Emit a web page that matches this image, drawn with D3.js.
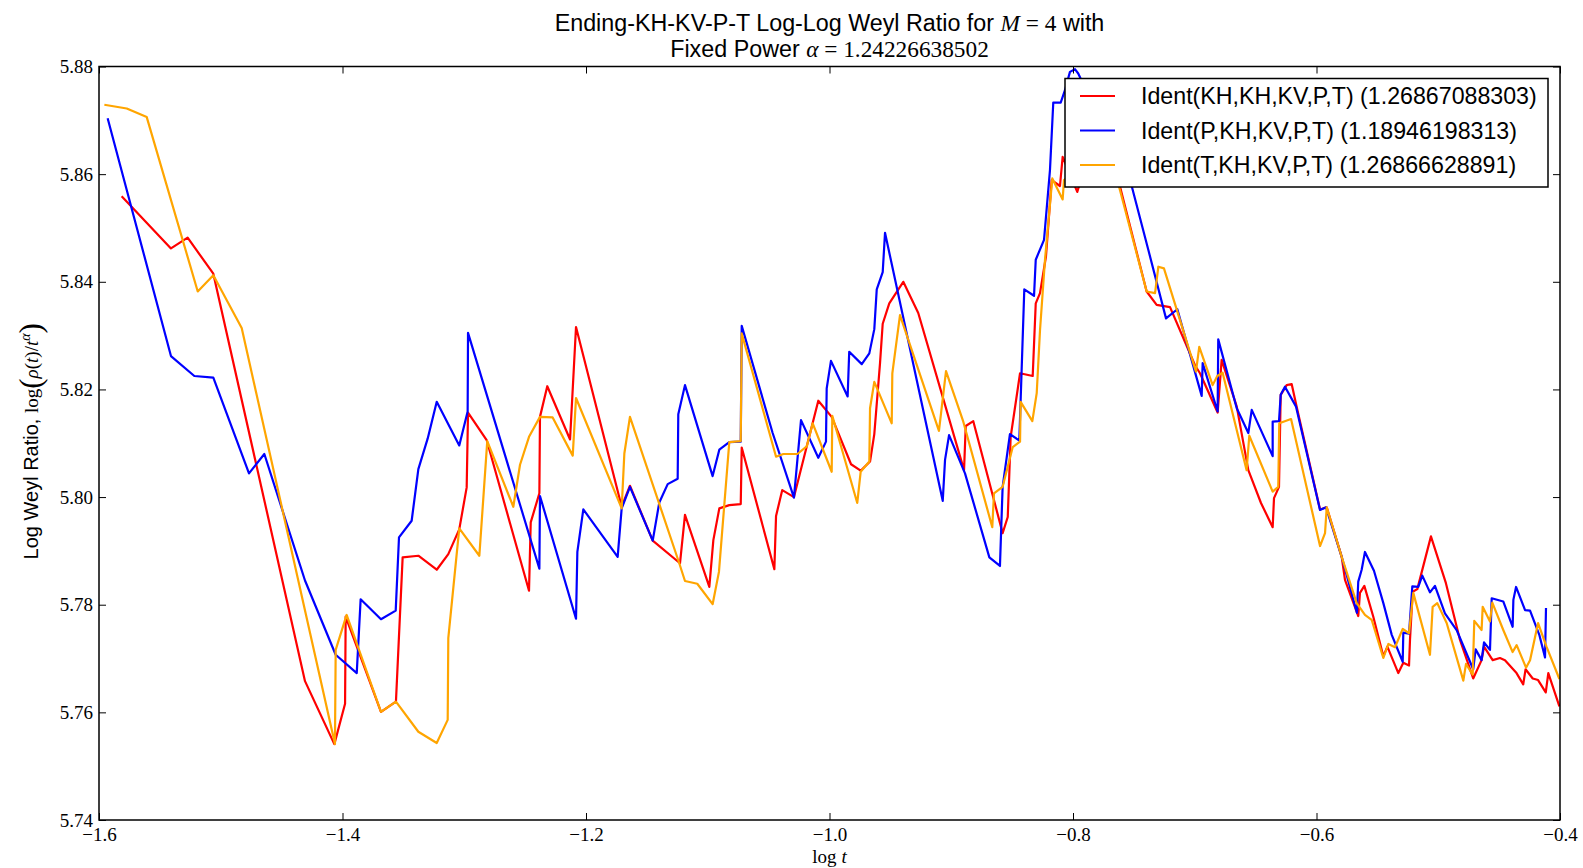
<!DOCTYPE html>
<html><head><meta charset="utf-8">
<script src="https://cdn.jsdelivr.net/npm/d3@7"></script>
<style>body{margin:0;background:#fff}</style>
</head><body><svg id="c" width="1583" height="868"></svg>
<script>
const xTicks = [-1.6,-1.4,-1.2,-1.0,-0.8,-0.6,-0.4];
const yTicks = [5.74,5.76,5.78,5.80,5.82,5.84,5.86,5.88];
const seriesNames = ["Ident(KH,KH,KV,P,T) (1.26867088303)","Ident(P,KH,KV,P,T) (1.18946198313)","Ident(T,KH,KV,P,T) (1.26866628891)"];
const seriesColors = ["#ff0000","#0000ff","#ffa500"];

const redPts = [[-1.5814,5.8559],[-1.5409,5.8462],[-1.5272,5.8482],[-1.5061,5.8415],[-1.4308,5.7658],[-1.4067,5.7541],[-1.3979,5.7616],[-1.3974,5.7778],[-1.3684,5.7601],[-1.3561,5.7620],[-1.3506,5.7888],[-1.3377,5.7891],[-1.3226,5.7865],[-1.3131,5.7894],[-1.3041,5.7940],[-1.2980,5.8018],[-1.2969,5.8157],[-1.2816,5.8106],[-1.2468,5.7826],[-1.2454,5.7953],[-1.2383,5.8007],[-1.2378,5.8149],[-1.2318,5.8206],[-1.2131,5.8107],[-1.2082,5.8316],[-1.1707,5.7982],[-1.1639,5.8021],[-1.1452,5.7919],[-1.1228,5.7877],[-1.1187,5.7967],[-1.0987,5.7833],[-1.0954,5.7920],[-1.0905,5.7979],[-1.0823,5.7985],[-1.0729,5.7987],[-1.0721,5.8092],[-1.0453,5.7866],[-1.0439,5.7965],[-1.0388,5.8013],[-1.0292,5.8000],[-1.0092,5.8179],[-0.9982,5.8149],[-0.9823,5.8061],[-0.9744,5.8049],[-0.9667,5.8066],[-0.9632,5.8117],[-0.9585,5.8249],[-0.9563,5.8322],[-0.9509,5.8360],[-0.9394,5.8400],[-0.9271,5.8342],[-0.8895,5.8050],[-0.8881,5.8132],[-0.8819,5.8141],[-0.8578,5.7933],[-0.8536,5.7963],[-0.8512,5.8112],[-0.8435,5.8230],[-0.8331,5.8225],[-0.8306,5.8360],[-0.8271,5.8379],[-0.8222,5.8447],[-0.8175,5.8589],[-0.8107,5.8578],[-0.8085,5.8632],[-0.7965,5.8567],[-0.7860,5.8645],[-0.7737,5.8617],[-0.7614,5.8577],[-0.7395,5.8382],[-0.7313,5.8357],[-0.7203,5.8353],[-0.6998,5.8245],[-0.6957,5.8230],[-0.6812,5.8157],[-0.6779,5.8255],[-0.6655,5.8168],[-0.6560,5.8050],[-0.6456,5.7989],[-0.6360,5.7944],[-0.6349,5.7998],[-0.6308,5.8019],[-0.6294,5.8190],[-0.6245,5.8208],[-0.6204,5.8210],[-0.6163,5.8168],[-0.5971,5.7977],[-0.5916,5.7981],[-0.5793,5.7889],[-0.5766,5.7846],[-0.5657,5.7779],[-0.5643,5.7822],[-0.5607,5.7835],[-0.5534,5.7778],[-0.5451,5.7704],[-0.5418,5.7722],[-0.5328,5.7673],[-0.5287,5.7692],[-0.5240,5.7687],[-0.5232,5.7735],[-0.5210,5.7824],[-0.5172,5.7829],[-0.5060,5.7927],[-0.4937,5.7840],[-0.4822,5.7735],[-0.4713,5.7663],[-0.4644,5.7697],[-0.4624,5.7722],[-0.4553,5.7697],[-0.4493,5.7701],[-0.4452,5.7697],[-0.4357,5.7673],[-0.4302,5.7652],[-0.4283,5.7680],[-0.4224,5.7663],[-0.4180,5.7660],[-0.4117,5.7637],[-0.4096,5.7673],[-0.4005,5.7611]];

const bluePts = [[-1.5929,5.8704],[-1.5409,5.8262],[-1.5217,5.8225],[-1.5061,5.8222],[-1.4768,5.8044],[-1.4642,5.8080],[-1.4308,5.7845],[-1.4056,5.7707],[-1.3883,5.7673],[-1.3851,5.7810],[-1.3684,5.7773],[-1.3563,5.7789],[-1.3536,5.7925],[-1.3432,5.7956],[-1.3377,5.8052],[-1.3300,5.8109],[-1.3226,5.8177],[-1.3041,5.8096],[-1.2972,5.8159],[-1.2969,5.8305],[-1.2383,5.7867],[-1.2378,5.8002],[-1.2082,5.7774],[-1.2071,5.7898],[-1.2022,5.7977],[-1.1740,5.7889],[-1.1707,5.7979],[-1.1639,5.8019],[-1.1452,5.7919],[-1.1398,5.7990],[-1.1329,5.8024],[-1.1247,5.8034],[-1.1242,5.8154],[-1.1187,5.8208],[-1.0960,5.8039],[-1.0905,5.8088],[-1.0823,5.8102],[-1.0729,5.8103],[-1.0721,5.8318],[-1.0467,5.8119],[-1.0292,5.7999],[-1.0234,5.8143],[-1.0092,5.8073],[-1.0029,5.8103],[-1.0023,5.8202],[-0.9988,5.8253],[-0.9851,5.8187],[-0.9838,5.8270],[-0.9735,5.8247],[-0.9673,5.8267],[-0.9632,5.8312],[-0.9612,5.8386],[-0.9563,5.8418],[-0.9544,5.8491],[-0.9070,5.7993],[-0.9051,5.8069],[-0.9018,5.8115],[-0.8887,5.8044],[-0.8687,5.7888],[-0.8600,5.7872],[-0.8578,5.8019],[-0.8518,5.8117],[-0.8441,5.8105],[-0.8400,5.8386],[-0.8320,5.8374],[-0.8306,5.8441],[-0.8238,5.8478],[-0.8189,5.8608],[-0.8162,5.8733],[-0.8101,5.8733],[-0.8066,5.8756],[-0.8025,5.8790],[-0.7984,5.8795],[-0.7957,5.8787],[-0.7778,5.8701],[-0.7517,5.8577],[-0.7381,5.8459],[-0.7236,5.8332],[-0.7143,5.8349],[-0.6943,5.8188],[-0.6935,5.8249],[-0.6812,5.8159],[-0.6807,5.8293],[-0.6655,5.8165],[-0.6560,5.8119],[-0.6532,5.8162],[-0.6360,5.8076],[-0.6360,5.8140],[-0.6308,5.8141],[-0.6294,5.8190],[-0.6259,5.8205],[-0.6168,5.8168],[-0.5971,5.7976],[-0.5922,5.7981],[-0.5793,5.7889],[-0.5668,5.7785],[-0.5657,5.7843],[-0.5629,5.7865],[-0.5602,5.7898],[-0.5528,5.7863],[-0.5451,5.7803],[-0.5382,5.7744],[-0.5292,5.7694],[-0.5287,5.7748],[-0.5240,5.7746],[-0.5213,5.7834],[-0.5164,5.7833],[-0.5131,5.7854],[-0.5068,5.7823],[-0.5027,5.7835],[-0.4945,5.7784],[-0.4849,5.7753],[-0.4713,5.7680],[-0.4693,5.7717],[-0.4644,5.7697],[-0.4624,5.7730],[-0.4575,5.7716],[-0.4561,5.7812],[-0.4466,5.7806],[-0.4389,5.7759],[-0.4383,5.7809],[-0.4361,5.7833],[-0.4287,5.7790],[-0.4246,5.7789],[-0.4170,5.7744],[-0.4123,5.7702],[-0.4115,5.7794]];

const orangePts = [[-1.5956,5.8729],[-1.5772,5.8722],[-1.5608,5.8706],[-1.5189,5.8382],[-1.5061,5.8412],[-1.4828,5.8314],[-1.4062,5.7541],[-1.4056,5.7716],[-1.3966,5.7781],[-1.3684,5.7601],[-1.3561,5.7620],[-1.3377,5.7564],[-1.3226,5.7543],[-1.3136,5.7586],[-1.3131,5.7738],[-1.3041,5.7942],[-1.2876,5.7891],[-1.2811,5.8104],[-1.2597,5.7982],[-1.2542,5.8060],[-1.2468,5.8112],[-1.2378,5.8149],[-1.2274,5.8148],[-1.2109,5.8077],[-1.2082,5.8184],[-1.1707,5.7979],[-1.1685,5.8081],[-1.1639,5.8149],[-1.1234,5.7877],[-1.1187,5.7844],[-1.1086,5.7839],[-1.0960,5.7801],[-1.0908,5.7861],[-1.0823,5.8102],[-1.0729,5.8104],[-1.0721,5.8304],[-1.0439,5.8075],[-1.0379,5.8080],[-1.0264,5.8080],[-1.0187,5.8094],[-1.0138,5.8137],[-0.9982,5.8047],[-0.9977,5.8151],[-0.9772,5.7989],[-0.9744,5.8047],[-0.9673,5.8066],[-0.9667,5.8165],[-0.9632,5.8214],[-0.9489,5.8137],[-0.9484,5.8230],[-0.9421,5.8338],[-0.9101,5.8123],[-0.9043,5.8234],[-0.8901,5.8140],[-0.8663,5.7944],[-0.8649,5.8007],[-0.8578,5.8019],[-0.8495,5.8093],[-0.8435,5.8103],[-0.8430,5.8177],[-0.8334,5.8141],[-0.8298,5.8193],[-0.8271,5.8310],[-0.8230,5.8441],[-0.8170,5.8592],[-0.8085,5.8553],[-0.8074,5.8589],[-0.7819,5.8636],[-0.7655,5.8598],[-0.7622,5.8577],[-0.7395,5.8382],[-0.7326,5.8379],[-0.7299,5.8428],[-0.7253,5.8425],[-0.6990,5.8233],[-0.6963,5.8279],[-0.6853,5.8208],[-0.6815,5.8225],[-0.6771,5.8231],[-0.6574,5.8050],[-0.6552,5.8114],[-0.6360,5.8010],[-0.6314,5.8019],[-0.6306,5.8137],[-0.6209,5.8145],[-0.5971,5.7909],[-0.5930,5.7933],[-0.5916,5.7981],[-0.5793,5.7889],[-0.5670,5.7803],[-0.5602,5.7781],[-0.5547,5.7772],[-0.5451,5.7701],[-0.5410,5.7727],[-0.5355,5.7721],[-0.5292,5.7755],[-0.5240,5.7747],[-0.5205,5.7822],[-0.5068,5.7707],[-0.5046,5.7796],[-0.5008,5.7803],[-0.4931,5.7766],[-0.4794,5.7659],[-0.4772,5.7690],[-0.4717,5.7670],[-0.4704,5.7770],[-0.4644,5.7753],[-0.4635,5.7796],[-0.4575,5.7769],[-0.4556,5.7804],[-0.4466,5.7753],[-0.4389,5.7712],[-0.4356,5.7725],[-0.4279,5.7683],[-0.4246,5.7697],[-0.4180,5.7766],[-0.4111,5.7722],[-0.4005,5.7662]];

const series = [redPts, bluePts, orangePts];

const W = 1583, H = 868;
const L = 99, R = 1560, T = 66.5, B = 820;
const sans = "'Liberation Sans', Arial, Helvetica, sans-serif";
const serif = "'Liberation Serif', 'Times New Roman', serif";

const svg = d3.select("#c");
svg.append("rect").attr("width", W).attr("height", H).attr("fill", "#fff");

const x = d3.scaleLinear().domain([-1.6, -0.4]).range([L, R]);
const y = d3.scaleLinear().domain([5.74, 5.88]).range([B, T]);

svg.append("defs").append("clipPath").attr("id", "clip")
  .append("rect").attr("x", L).attr("y", T).attr("width", R - L).attr("height", B - T);

const line = d3.line().x(d => x(d[0])).y(d => y(d[1]));
const gLines = svg.append("g").attr("clip-path", "url(#clip)");
series.forEach((pts, i) => {
  gLines.append("path").datum(pts).attr("d", line)
    .attr("fill", "none").attr("stroke", seriesColors[i])
    .attr("stroke-width", 2.2).attr("stroke-linejoin", "round").attr("stroke-linecap", "butt");
});

const fmtX = d => (d < 0 ? "\u2212" : "") + Math.abs(d).toFixed(1);
const fmtY = d => d.toFixed(2);
const tk = 7;

const axB = svg.append("g").attr("transform", `translate(0,${B})`)
  .call(d3.axisBottom(x).tickValues(xTicks).tickSize(-tk).tickPadding(8).tickFormat(fmtX));
const axT = svg.append("g").attr("transform", `translate(0,${T})`)
  .call(d3.axisTop(x).tickValues(xTicks).tickSize(-tk).tickFormat(""));
const axL = svg.append("g").attr("transform", `translate(${L},0)`)
  .call(d3.axisLeft(y).tickValues(yTicks).tickSize(-tk).tickPadding(6).tickFormat(fmtY));
const axR = svg.append("g").attr("transform", `translate(${R},0)`)
  .call(d3.axisRight(y).tickValues(yTicks).tickSize(-tk).tickFormat(""));
[axB, axT, axL, axR].forEach(g => {
  g.select(".domain").remove();
  g.selectAll(".tick line").attr("stroke", "#000").attr("stroke-width", 1);
  g.selectAll("text").attr("font-family", serif).attr("font-size", 19).attr("fill", "#000");
});

svg.append("rect").attr("x", L).attr("y", T).attr("width", R - L).attr("height", B - T)
  .attr("fill", "none").attr("stroke", "#000").attr("stroke-width", 1.5);

// Title
const title = svg.append("text").attr("x", (L + R) / 2).attr("y", 31)
  .attr("text-anchor", "middle").attr("font-size", 23.3).attr("font-family", sans);
title.append("tspan").text("Ending-KH-KV-P-T Log-Log Weyl Ratio for ");
title.append("tspan").attr("font-family", serif).attr("font-style", "italic").text("M");
title.append("tspan").attr("font-family", serif).text(" = 4");
title.append("tspan").text(" with");
const title2 = svg.append("text").attr("x", (L + R) / 2).attr("y", 57)
  .attr("text-anchor", "middle").attr("font-size", 23.3).attr("font-family", sans);
title2.append("tspan").text("Fixed Power ");
title2.append("tspan").attr("font-family", serif).attr("font-style", "italic").text("\u03b1");
title2.append("tspan").attr("font-family", serif).text(" = 1.24226638502");

// X label
const xl = svg.append("text").attr("x", (L + R) / 2).attr("y", 863)
  .attr("text-anchor", "middle").attr("font-size", 19).attr("font-family", serif);
xl.append("tspan").text("log ");
xl.append("tspan").attr("font-style", "italic").text("t");

// Y label
const yl = svg.append("text").attr("transform", `translate(38,${(T + B) / 2 - 2}) rotate(-90)`)
  .attr("text-anchor", "middle").attr("font-size", 20).attr("font-family", sans);
yl.append("tspan").text("Log Weyl Ratio, ");
yl.append("tspan").attr("font-family", serif).attr("font-size", 19).text("log");
yl.append("tspan").attr("font-family", serif).attr("font-size", 31).attr("dy", 3).text("(");
yl.append("tspan").attr("font-family", serif).attr("font-size", 19).attr("font-style", "italic").attr("dy", -3).text("\u03c1");
yl.append("tspan").attr("font-family", serif).attr("font-size", 19).text("(");
yl.append("tspan").attr("font-family", serif).attr("font-size", 19).attr("font-style", "italic").text("t");
yl.append("tspan").attr("font-family", serif).attr("font-size", 19).text(")/");
yl.append("tspan").attr("font-family", serif).attr("font-size", 19).attr("font-style", "italic").text("t");
yl.append("tspan").attr("font-family", serif).attr("font-style", "italic").attr("font-size", 14).attr("dy", -8).text("\u03b1");
yl.append("tspan").attr("font-family", serif).attr("font-size", 31).attr("dy", 11).text(")");

// Legend
const lg = svg.append("g");
lg.append("rect").attr("x", 1065).attr("y", 78.5).attr("width", 483).attr("height", 108.5)
  .attr("fill", "#fff").attr("stroke", "#000").attr("stroke-width", 1.5);
const legY = [96, 130.5, 165];
seriesNames.forEach((n, i) => {
  lg.append("line").attr("x1", 1080).attr("x2", 1115).attr("y1", legY[i]).attr("y2", legY[i])
    .attr("stroke", seriesColors[i]).attr("stroke-width", 2.2);
  lg.append("text").attr("x", 1141).attr("y", legY[i] + 8).attr("font-family", sans)
    .attr("font-size", 23.2).text(n);
});
</script></body></html>
